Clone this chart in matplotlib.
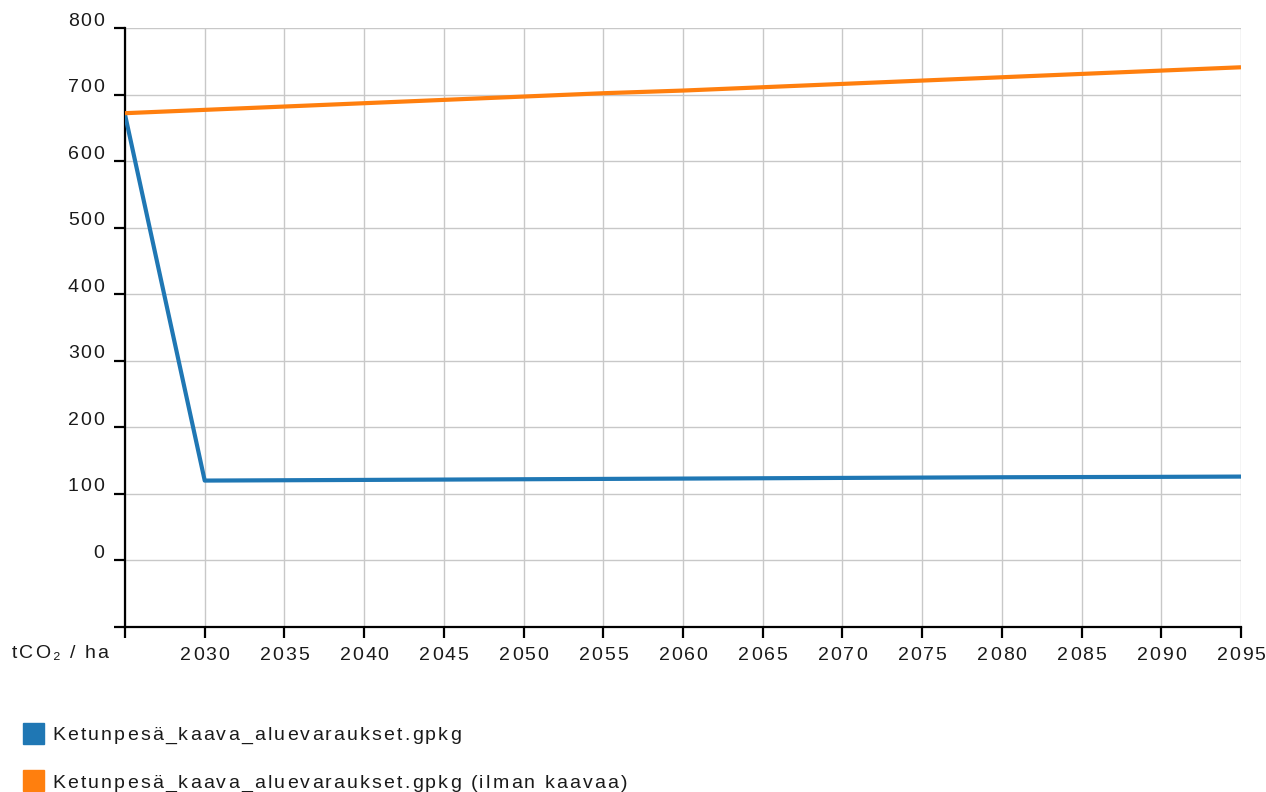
import matplotlib.pyplot as plt
from matplotlib.patches import Rectangle
from matplotlib import font_manager
from matplotlib.ft2font import FT2Font

plt.rcParams['font.family'] = ['Liberation Sans', 'DejaVu Sans']

# Data (tCO2 / ha)
years = [2025, 2030, 2035, 2040, 2045, 2050, 2055, 2060, 2065, 2070, 2075, 2080, 2085, 2090, 2095]
kaava = [670, 120, 120.5, 121, 121.5, 122, 122.5, 123, 123.5, 124, 124.5, 125, 125.3, 125.6, 126]
ilman_kaavaa = [672, 677, 682, 687, 692, 697, 702, 706, 711, 716, 721, 726, 731, 736, 741]

series_labels = ["Ketunpesä_kaava_aluevaraukset.gpkg",
                 "Ketunpesä_kaava_aluevaraukset.gpkg (ilman kaavaa)"]
colors = ["#1f77b4", "#ff7f0e"]

y_ticks = [-100, 0, 100, 200, 300, 400, 500, 600, 700, 800]
y_labels = ["", "0", "100", "200", "300", "400", "500", "600", "700", "800"]
x_ticks = years
x_labels = [""] + [str(y) for y in years[1:]]
unit_label = "tCO₂ / ha"

W, H = 1266, 792
FS = 14
TXT = '#1a1a1a'

fig = plt.figure(figsize=(W / 100, H / 100), dpi=100)
ax = fig.add_axes([125 / W, 1 - 627 / H, (1241 - 125) / W, (627 - 28) / H])

# letter-spaced text helper (matplotlib has no letter-spacing)
main_font = FT2Font(font_manager.findfont(font_manager.FontProperties(family='Liberation Sans')))
main_font.set_size(FS, 100)
fb_font = FT2Font(font_manager.findfont(font_manager.FontProperties(family='DejaVu Sans')))
fb_font.set_size(FS, 100)


def advance(ch):
    f = main_font if main_font.get_char_index(ord(ch)) else fb_font
    return f.load_char(ord(ch)).linearHoriAdvance / 65536


def spaced_text(x, y, s, ha='left', spacing=1.8):
    # x, y in pixels from top-left
    adv = [advance(c) for c in s]
    total = sum(adv) + spacing * (len(s) - 1)
    if ha == 'center':
        x -= total / 2
    elif ha == 'right':
        x -= total
    for c, a in zip(s, adv):
        fig.text(x / W, 1 - y / H, c, fontsize=FS, color=TXT, va='center', ha='left')
        x += a + spacing


ax.plot(years, kaava, color=colors[0], lw=3, solid_capstyle='butt', zorder=3)
ax.plot(years, ilman_kaavaa, color=colors[1], lw=3, solid_capstyle='butt', zorder=3)

ax.set_xlim(2025, 2095)
ax.set_ylim(-100, 800)
ax.set_xticks(x_ticks)
ax.set_yticks(y_ticks)
ax.set_xticklabels([])
ax.set_yticklabels([])
ax.grid(True, color='#c8c8c8', lw=1)
ax.set_axisbelow(True)

for s in ['top', 'right']:
    ax.spines[s].set_visible(False)
for s in ['left', 'bottom']:
    ax.spines[s].set_linewidth(1.6)
ax.tick_params(axis='both', length=8, width=1.6, color='black')

# tick labels placed through the axes' data transform
fig.canvas.draw()
for v, lab in zip(y_ticks, y_labels):
    if lab:
        px, py = ax.transData.transform((2025, v))
        spaced_text(px - 21, H - py - 7, lab, ha='right')
for v, lab in zip(x_ticks, x_labels):
    if lab:
        px, py = ax.transData.transform((v, -100))
        spaced_text(px, H - py + 28, lab, ha='center')

spaced_text(12, 653, unit_label, spacing=2)

# legend
for i, (lab, c) in enumerate(zip(series_labels, colors)):
    ytop = 723 + i * 47
    fig.patches.append(Rectangle((23 / W, 1 - (ytop + 21) / H), 21 / W, 21 / H,
                                 transform=fig.transFigure, color=c, figure=fig))
    spaced_text(52, ytop + 13, lab, spacing=2.2)

fig.savefig("out.png", dpi=100)
